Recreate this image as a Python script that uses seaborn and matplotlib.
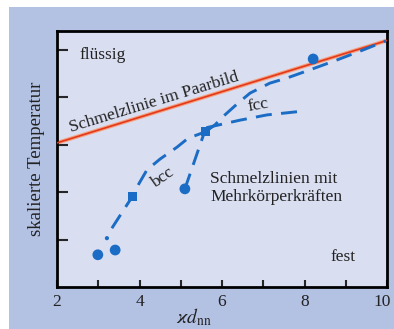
import numpy as np
import pandas as pd
import seaborn as sns
import matplotlib
matplotlib.use("Agg")
import matplotlib.pyplot as plt
import matplotlib.transforms as mtransforms
from matplotlib.patches import Rectangle

# data (x = kappa*d_nn, y = scaled temperature)
pair_x = [2.0, 10.0]
pair_y = [3.04, 5.20]

bcc_x = [3.33, 3.82, 3.94, 4.18, 4.50, 4.91, 5.18, 5.59]
bcc_y = [1.24, 1.90, 2.11, 2.47, 2.70, 2.95, 3.14, 3.27]

branch_x = [5.10, 5.56]
branch_y = [2.07, 3.23]

fcc_x = [5.59, 5.83, 6.07, 6.39, 6.68, 7.16, 7.58, 8.13, 8.79, 9.42, 9.97]
fcc_y = [3.27, 3.42, 3.63, 3.88, 4.09, 4.30, 4.41, 4.58, 4.79, 5.00, 5.19]

fcc2_x = [5.62, 6.44, 7.09, 7.96]
fcc2_y = [3.36, 3.52, 3.63, 3.71]

circle_x = [2.99, 3.41, 5.10, 8.21]
circle_y = [0.68, 0.78, 2.07, 4.81]

square_x = [3.82, 5.59]
square_y = [1.90, 3.27]

dot_x = [3.21]
dot_y = [1.03]

blue = "#1a6cc4"
sns.set_style("ticks")
plt.rcParams['font.family'] = ['Liberation Serif', 'DejaVu Serif']
plt.rcParams['mathtext.fontset'] = 'stix'

fig = plt.figure(figsize=(3.94, 3.29), dpi=100, facecolor="white")
fig.patches.append(Rectangle((9 / 394, 0), 1, 1 - 7 / 329, transform=fig.transFigure,
                             facecolor="#b3c1e3", edgecolor="none", zorder=-10))
ax = fig.add_axes([57 / 394, 1 - 287 / 329, 330 / 394, 256 / 329])
ax.set_facecolor("#d9def0")

# melting line of the pair picture
pair = pd.DataFrame({"x": pair_x, "y": pair_y})
sns.lineplot(data=pair, x="x", y="y", ax=ax, color="#f4a07e", linewidth=2.8, zorder=2)
sns.lineplot(data=pair, x="x", y="y", ax=ax, color="#e4381c", linewidth=1.2, zorder=3)

# many-body melting lines
for xs, ys in [(bcc_x, bcc_y), (branch_x, branch_y), (fcc_x, fcc_y), (fcc2_x, fcc2_y)]:
    d = pd.DataFrame({"x": xs, "y": ys})
    sns.lineplot(data=d, x="x", y="y", ax=ax, sort=False, color=blue, linewidth=2.1,
                 dashes=False, linestyle=(0, (5.5, 3.2)), zorder=4)

sns.scatterplot(x=circle_x, y=circle_y, ax=ax, color=blue, s=60, marker="o",
                edgecolor="none", zorder=5)
sns.scatterplot(x=square_x, y=square_y, ax=ax, color=blue, s=42, marker="s",
                edgecolor="none", zorder=5)
sns.scatterplot(x=dot_x, y=dot_y, ax=ax, color=blue, s=9, marker="o",
                edgecolor="none", zorder=5)

ax.set_xlim(2, 10)
ax.set_ylim(0, 5.4)
ax.set_xticks([2, 4, 6, 8, 10])
ax.set_xticks([3, 5, 7, 9], minor=True)
ax.set_yticks([1, 2, 3, 4, 5])
ax.set_yticklabels([])
ax.tick_params(axis="x", direction="in", length=5, width=1.5, labelsize=12.5, pad=5,
               labelcolor="#222222")
ax.tick_params(axis="x", which="minor", direction="in", length=5, width=1.5)
ax.tick_params(axis="y", direction="in", length=8, width=1.5)
for s in ax.spines.values():
    s.set_linewidth(2)
    s.set_color("black")

# the "10" sits a little left of its tick so it stays inside the picture
last = ax.get_xticklabels()[-1]
last.set_transform(last.get_transform() +
                   mtransforms.ScaledTranslation(-5 / 100, 0, fig.dpi_scale_trans))

ax.set_xlabel("")
ax.set_ylabel("skalierte Temperatur", fontsize=13.5, color="#222222", labelpad=5)
fig.text(194 / 394, 1 - 317 / 329, r"$\varkappa d_{\mathrm{nn}}$", fontsize=14,
         ha="center", va="center", color="#222222")

tc = "#222222"
fs = 12.5
ax.text(2.55, 4.89, "flüssig", fontsize=fs, ha="left", va="center", color=tc)
ax.text(4.35, 3.90, "Schmelzlinie im Paarbild", fontsize=fs, ha="center", va="center",
        rotation=17, rotation_mode="anchor", color=tc)
ax.text(6.87, 3.84, "fcc", fontsize=fs, ha="center", va="center", rotation=10, color=tc)
ax.text(4.55, 2.30, "bcc", fontsize=fs, ha="center", va="center", rotation=35, color=tc)
ax.text(5.71, 2.09, "Schmelzlinien mit\nMehrkörperkräften", fontsize=fs, ha="left",
        va="center", linespacing=1.2, color=tc)
ax.text(8.93, 0.63, "fest", fontsize=fs, ha="center", va="center", color=tc)

fig.savefig("out.png", dpi=100, facecolor=fig.get_facecolor())
